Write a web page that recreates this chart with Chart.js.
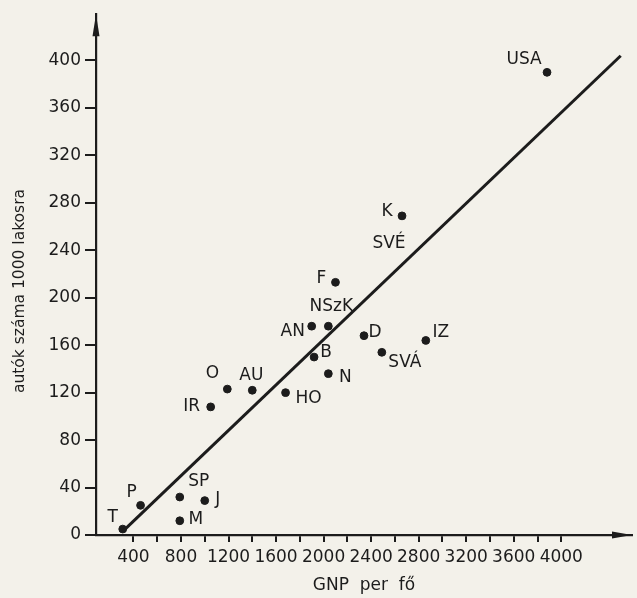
<!DOCTYPE html>
<html>
<head>
<meta charset="utf-8">
<script src="https://cdn.jsdelivr.net/npm/chart.js@4.4.0/dist/chart.umd.min.js"></script>
<style>
  html, body { margin: 0; padding: 0; background: #f3f1ea; }
  #wrap { width: 637px; height: 598px; }
</style>
</head>
<body>
<div id="wrap"><canvas id="chart" width="637" height="598"></canvas></div>
<script>
// országok rövidítése, GNP per fő, autók száma 1000 lakosra
let countries = ["T", "P", "SP", "J", "M", "IR", "O", "AU", "HO", "B", "N", "AN", "NSzK", "F", "D", "SVÁ", "IZ", "K", "USA"];
let gnp = [310, 460, 790, 1000, 790, 1050, 1190, 1400, 1680, 1920, 2040, 1900, 2040, 2100, 2340, 2490, 2860, 2660, 3880];
let cars = [5, 25, 32, 29, 12, 108, 123, 122, 120, 150, 136, 176, 176, 213, 168, 154, 164, 269, 390];

// regressziós egyenes két végpontja
let trendGnp = [310, 4500];
let trendCars = [3, 404];

let yTicks = [0, 40, 80, 120, 160, 200, 240, 280, 320, 360, 400];

// felirat helye a ponthoz képest (px)
let labelOffsets = {
  T: [-10, -11], P: [-9, -13], SP: [19, -15], J: [13, -1], M: [16, -1],
  IR: [-19, 0], O: [-15, -16], AU: [-1, -15], HO: [23, 6], B: [12, -4],
  N: [17, 4], AN: [-19, 5], NSzK: [3, -20], F: [-14, -4], D: [11, -3],
  "SVÁ": [23, 10], IZ: [15, -8], K: [-15, -4], USA: [-23, -13],
};
let extraLabels = [{ text: "SVÉ", anchor: "K", dx: -13, dy: 28 }];

let ink = "#1c1c1c";
let font = "'DejaVu Sans', sans-serif";

let points = gnp.map((g, i) => ({ x: g, y: cars[i] }));
let trend = trendGnp.map((g, i) => ({ x: g, y: trendCars[i] }));

let decor = {
  id: "decor",
  afterDraw(chart) {
    let ctx = chart.ctx;
    let area = chart.chartArea;
    ctx.save();
    ctx.fillStyle = ink;
    // nyilak a tengelyek végén
    ctx.beginPath();
    ctx.moveTo(area.left, area.top);
    ctx.lineTo(area.left - 3.5, area.top + 22);
    ctx.lineTo(area.left + 3.5, area.top + 22);
    ctx.closePath();
    ctx.fill();
    ctx.beginPath();
    ctx.moveTo(area.right, area.bottom);
    ctx.lineTo(area.right - 20, area.bottom - 3.5);
    ctx.lineTo(area.right - 20, area.bottom + 3.5);
    ctx.closePath();
    ctx.fill();

    // pontok feliratai
    ctx.font = "17px " + font;
    ctx.textAlign = "center";
    ctx.textBaseline = "middle";
    let meta = chart.getDatasetMeta(1);
    let pos = {};
    countries.forEach((c, i) => {
      let el = meta.data[i];
      pos[c] = el;
      let off = labelOffsets[c];
      ctx.fillText(c, el.x + off[0], el.y + off[1]);
    });
    for (let l of extraLabels) {
      let el = pos[l.anchor];
      ctx.fillText(l.text, el.x + l.dx, el.y + l.dy);
    }

    // függőleges tengely felirata
    ctx.font = "15.5px " + font;
    ctx.translate(20, 291);
    ctx.rotate(-Math.PI / 2);
    ctx.fillText("autók száma 1000 lakosra", 0, 0);
    ctx.restore();
  },
};

new Chart(document.getElementById("chart"), {
  type: "scatter",
  data: {
    datasets: [
      {
        type: "line",
        data: trend,
        borderColor: ink,
        borderWidth: 3,
        pointRadius: 0,
        fill: false,
      },
      {
        data: points,
        backgroundColor: ink,
        borderColor: ink,
        pointRadius: 3.9,
      },
    ],
  },
  options: {
    responsive: false,
    animation: false,
    events: [],
    layout: { padding: { left: 0, top: 13, right: 1, bottom: 0 } },
    plugins: { legend: { display: false }, tooltip: { enabled: false } },
    scales: {
      x: {
        type: "linear",
        min: 85,
        max: 4595,
        afterFit(scale) { scale.height = 63; },
        afterBuildTicks(scale) {
          scale.ticks = scale.ticks.filter((t) => t.value >= 200 && t.value <= 4000 && t.value % 200 === 0);
        },
        border: { display: true, color: ink, width: 2.2 },
        grid: { drawOnChartArea: false, drawTicks: true, tickLength: 7, color: ink, lineWidth: 2 },
        ticks: {
          stepSize: 200,
          autoSkip: false,
          maxRotation: 0,
          padding: 5,
          color: ink,
          font: { family: font, size: 17 },
          callback: (v) => (v % 400 === 0 ? String(v) : ""),
        },
        title: {
          display: true,
          text: "GNP  per  fő",
          color: ink,
          font: { family: font, size: 17 },
          padding: { top: 0, bottom: 2 },
        },
      },
      y: {
        min: 0,
        max: 439,
        afterFit(scale) { scale.width = 96; },
        afterBuildTicks(scale) {
          scale.ticks = yTicks.map((v) => ({ value: v }));
        },
        border: { display: true, color: ink, width: 2.2 },
        grid: { drawOnChartArea: false, drawTicks: true, tickLength: 11, color: ink, lineWidth: 2 },
        ticks: {
          padding: 4,
          color: ink,
          font: { family: font, size: 17 },
        },
      },
    },
  },
  plugins: [decor],
});
</script>
</body>
</html>
